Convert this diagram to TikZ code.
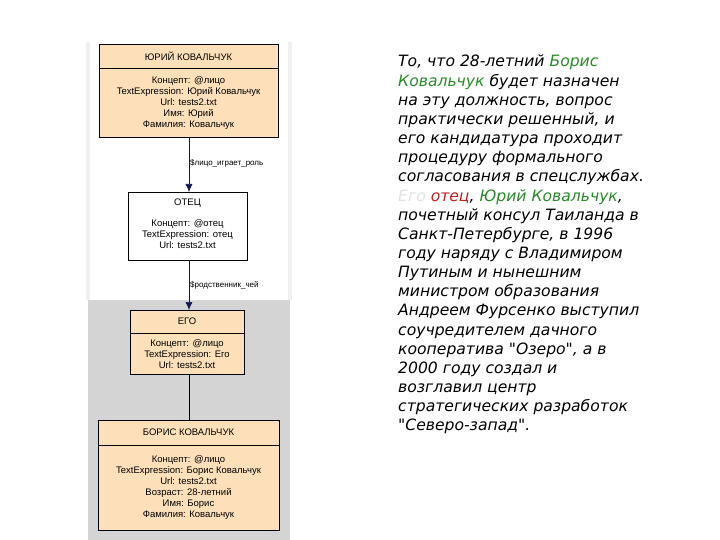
\documentclass[tikz,border=0pt]{standalone}
\usepackage{fontspec}
\usetikzlibrary{arrows.meta}
\setmainfont{DejaVu Sans}
\newfontfamily\smallf{Liberation Sans}
\begin{document}
\begin{tikzpicture}[x=1pt,y=-1pt,
  box/.style={draw=black,line width=0.6pt},
  peach/.style={box,fill=peachc},
  lbl/.style={font=\smallf\fontsize{9.5}{11}\selectfont,align=center,inner sep=0},
  conn/.style={draw=navyc,line width=0.7pt},
  rt/.style={anchor=base west,inner sep=0,font=\itshape\fontsize{15.6}{17}\selectfont}]
\definecolor{peachc}{RGB}{253,224,186}
\definecolor{navyc}{RGB}{20,20,90}
\definecolor{grn}{RGB}{40,140,40}
\definecolor{redc}{RGB}{200,30,30}
\useasboundingbox (0,0) rectangle (720,540);
\fill[white] (0,0) rectangle (720,540);
\fill[black!6] (86,42) rectangle (292,300);
\fill[white] (90,42) rectangle (288,300);
\fill[black!17] (88,300) rectangle (290,540);
% boxes
\path[peach] (99,44) rectangle (278,137);
\draw[line width=0.6pt] (99,68) -- (278,68);
\node[lbl] (b1h) at (188.5,56) {ЮРИЙ КОВАЛЬЧУК};
\node[lbl] (b1) at (188.5,103) {Концепт: @лицо\\TextExpression: Юрий Ковальчук\\Url: tests2.txt\\Имя: Юрий\\Фамилия: Ковальчук};
\path[box,fill=white] (128,192) rectangle (247,260);
\node[lbl] (b2h) at (187.5,203) {ОТЕЦ};
\node[lbl] (b2) at (187.5,234) {Концепт: @отец\\TextExpression: отец\\Url: tests2.txt};
\path[peach] (130,310) rectangle (244,374);
\draw[line width=0.6pt] (130,333) -- (244,333);
\node[lbl] (b3h) at (187,321) {ЕГО};
\node[lbl] (b3) at (187,354) {Концепт: @лицо\\TextExpression: Его\\Url: tests2.txt};
\path[peach] (98,420) rectangle (279,530);
\draw[line width=0.6pt] (98,445) -- (279,445);
\node[lbl] (b4h) at (188.5,432) {БОРИС КОВАЛЬЧУК};
\node[lbl] (b4) at (188.5,488) {Концепт: @лицо\\TextExpression: Борис Ковальчук\\Url: tests2.txt\\Возраст: 28-летний\\Имя: Борис\\Фамилия: Ковальчук};
\coordinate (a1) at (189,137); \coordinate (a2) at (189,192);
\coordinate (a3) at (189,260); \coordinate (a4) at (189,310);
\coordinate (a5) at (189,374); \coordinate (a6) at (189,420);
\draw[conn,-{Latex[length=8pt,width=7pt]}] (a1) -- (a2);
\draw[conn,-{Latex[length=8pt,width=7pt]}] (a3) -- (a4);
\draw[line width=0.6pt] (a5) -- (a6);
\node[lbl,anchor=west,font=\smallf\fontsize{8}{9}\selectfont] (l1) at (190,163) {\$лицо\_играет\_роль};
\node[lbl,anchor=west,font=\smallf\fontsize{8}{9}\selectfont] (l2) at (190,285) {\$родственник\_чей};
% right text
\foreach \t [count=\i] in {
 {То, что 28-летний \textcolor{grn}{Борис}},
 {\textcolor{grn}{Ковальчук} будет назначен},
 {на эту должность, вопрос},
 {практически решенный, и},
 {его кандидатура проходит},
 {процедуру формального},
 {согласования в спецслужбах.},
 {\textcolor{black!12}{Его} \textcolor{redc}{отец}, \textcolor{grn}{Юрий Ковальчук},},
 {почетный консул Таиланда в},
 {Санкт-Петербурге, в 1996},
 {году наряду с Владимиром},
 {Путиным и нынешним},
 {министром образования},
 {Андреем Фурсенко выступил},
 {соучредителем дачного},
 {кооператива \textquotedbl Озеро\textquotedbl, а в},
 {2000 году создал и},
 {возглавил центр},
 {стратегических разработок},
 {\textquotedbl Северо-запад\textquotedbl.}}
 \node[rt] (t\i) at (398,{67+(\i-1)*19.15}) {\t};
\end{tikzpicture}
\end{document}
